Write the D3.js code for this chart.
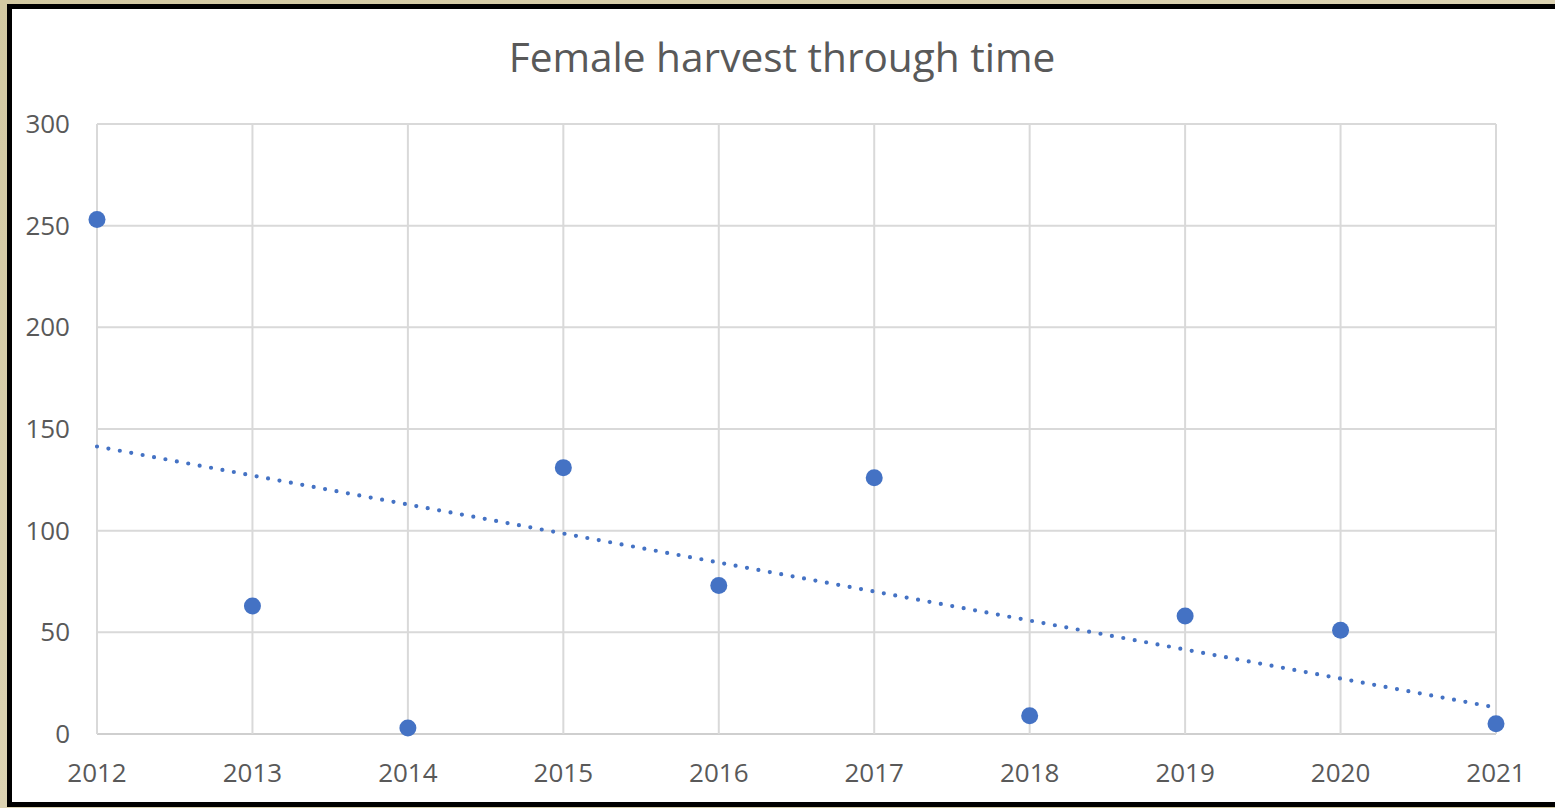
<!DOCTYPE html>
<html>
<head>
<meta charset="utf-8">
<script src="https://cdn.jsdelivr.net/npm/d3@7"></script>
<style>
  html, body { margin: 0; padding: 0; background: #d6cca8; }
  svg { display: block; }
  .tick-label { font-family: 'Open Sans', sans-serif; fill: #595959; }
</style>
</head>
<body>
<div id="chart"></div>
<script>
  const years = [2012, 2013, 2014, 2015, 2016, 2017, 2018, 2019, 2020, 2021];
  const harvest = [253, 63, 3, 131, 73, 126, 9, 58, 51, 5];
  const yTicks = [0, 50, 100, 150, 200, 250, 300];
  const title = 'Female harvest through time';

  const width = 1555;
  const height = 808;
  const margin = { top: 124, right: 59, bottom: 74, left: 97 };

  const svg = d3.select('#chart')
    .append('svg')
    .attr('width', width)
    .attr('height', height);

  // parchment background + black frame
  const defs = svg.append('defs');
  const grad = defs.append('linearGradient')
    .attr('id', 'parch')
    .attr('x1', 0).attr('y1', 0).attr('x2', 1).attr('y2', 1);
  grad.append('stop').attr('offset', '0%').attr('stop-color', '#d3c9a2');
  grad.append('stop').attr('offset', '50%').attr('stop-color', '#dcd3b2');
  grad.append('stop').attr('offset', '100%').attr('stop-color', '#cfc59c');

  svg.append('rect')
    .attr('width', width).attr('height', height)
    .attr('fill', 'url(#parch)');

  svg.append('rect')
    .attr('x', 9.5).attr('y', 6.5)
    .attr('width', width + 10).attr('height', 798)
    .attr('fill', '#ffffff')
    .attr('stroke', '#000')
    .attr('stroke-width', 5);

  const xScale = d3.scaleLinear()
    .domain([d3.min(years), d3.max(years)])
    .range([margin.left, width - margin.right]);

  const yScale = d3.scaleLinear()
    .domain([0, 300])
    .range([height - margin.bottom, margin.top]);

  // gridlines
  svg.append('g')
    .selectAll('line.h')
    .data(yTicks)
    .join('line')
    .attr('x1', xScale.range()[0])
    .attr('x2', xScale.range()[1])
    .attr('y1', d => yScale(d))
    .attr('y2', d => yScale(d))
    .attr('stroke', d => d === 0 ? '#cfcfcf' : '#d9d9d9')
    .attr('stroke-width', 2);

  svg.append('g')
    .selectAll('line.v')
    .data(years)
    .join('line')
    .attr('x1', d => xScale(d))
    .attr('x2', d => xScale(d))
    .attr('y1', yScale(0))
    .attr('y2', yScale(300))
    .attr('stroke', '#d9d9d9')
    .attr('stroke-width', 2);

  // axes labels
  svg.append('g')
    .selectAll('text')
    .data(yTicks)
    .join('text')
    .attr('class', 'tick-label')
    .attr('x', 70)
    .attr('y', d => yScale(d) + 9)
    .attr('text-anchor', 'end')
    .attr('font-size', 26)
    .text(d => d);

  svg.append('g')
    .selectAll('text')
    .data(years)
    .join('text')
    .attr('class', 'tick-label')
    .attr('x', d => xScale(d))
    .attr('y', 782)
    .attr('text-anchor', 'middle')
    .attr('font-size', 26)
    .text(d => d);

  // title
  svg.append('text')
    .attr('x', 782)
    .attr('y', 72)
    .attr('text-anchor', 'middle')
    .attr('font-family', "'Open Sans', sans-serif")
    .attr('font-size', 40.6)
    .attr('fill', '#595959')
    .text(title);

  // linear trendline (least squares)
  const xs = years.map(y => y - years[0]);
  const mx = d3.mean(xs);
  const my = d3.mean(harvest);
  const slope = d3.sum(xs, (x, i) => (x - mx) * (harvest[i] - my)) / d3.sum(xs, x => (x - mx) ** 2);
  const intercept = my - slope * mx;
  const trend = [years[0], years[years.length - 1]].map(y => [y, intercept + slope * (y - years[0])]);

  svg.append('path')
    .datum(trend)
    .attr('d', d3.line().x(d => xScale(d[0])).y(d => yScale(d[1])))
    .attr('fill', 'none')
    .attr('stroke', '#4472c4')
    .attr('stroke-width', 4.2)
    .attr('stroke-linecap', 'round')
    .attr('stroke-dasharray', '0 11.6');

  // points
  svg.append('g')
    .selectAll('circle')
    .data(years.map((y, i) => ({ year: y, value: harvest[i] })))
    .join('circle')
    .attr('cx', d => xScale(d.year))
    .attr('cy', d => yScale(d.value))
    .attr('r', 8.5)
    .attr('fill', '#4472c4');
</script>
</body>
</html>
